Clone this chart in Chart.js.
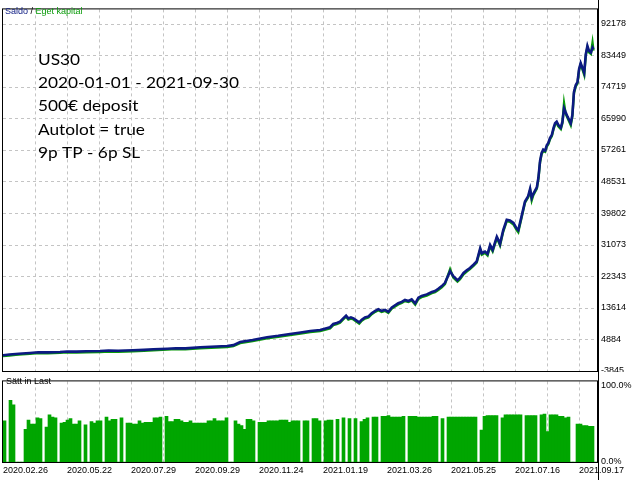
<!DOCTYPE html>
<html>
<head>
<meta charset="utf-8">
<script src="https://cdn.jsdelivr.net/npm/chart.js@4"></script>
<style>
  html, body { margin: 0; padding: 0; background: #fff; }
  #wrap { position: relative; width: 640px; height: 480px; overflow: hidden; }
  #top { position: absolute; left: 0; top: 0; }
  #bottom { position: absolute; left: 0; top: 372px; background: #fff; }
</style>
</head>
<body>
<div id="wrap">
  <canvas id="top" width="640" height="382"></canvas>
  <canvas id="bottom" width="640" height="108"></canvas>
</div>
<script>
// trade number of each sampled point on the balance graph
const tradeNo = [
  0, 20, 40, 60, 84, 110, 140, 178, 200, 230,
  260, 303, 330, 360, 406, 440, 470, 513, 540, 570,
  616, 650, 700, 720, 741, 780, 825, 860, 897, 930,
  960, 991, 1022, 1032, 1043, 1053, 1063, 1072, 1079, 1087,
  1095, 1105, 1113, 1121, 1131, 1142, 1152, 1163, 1173, 1183,
  1194, 1204, 1215, 1225, 1235, 1246, 1256, 1267, 1277, 1288,
  1298, 1308, 1324, 1340, 1350, 1360, 1371, 1381, 1397, 1407,
  1420, 1428, 1439, 1449, 1459, 1470, 1480, 1491, 1496, 1506,
  1514, 1522, 1530, 1543, 1548, 1553, 1563, 1574, 1584, 1595,
  1605, 1610, 1621, 1631, 1641, 1647, 1652, 1657, 1668, 1673,
  1678, 1683, 1688, 1694, 1699, 1704, 1709, 1715, 1720, 1725,
  1730, 1735, 1743, 1748, 1753, 1758, 1764, 1769, 1774, 1779,
  1784, 1790, 1795, 1800, 1805, 1810, 1816, 1821, 1826, 1831,
  1837, 1842, 1845
];
const balance = [
  500, 700, 850, 1000, 1150, 1350, 1300, 1420, 1550, 1500,
  1620, 1690, 1800, 1750, 1880, 2000, 2150, 2320, 2450, 2400,
  2700, 2850, 3050, 3300, 4150, 4700, 5500, 5900, 6400, 6800,
  7200, 7500, 8240, 9140, 9410, 9790, 10690, 11430, 10690, 10970,
  10690, 10070, 9600, 10340, 10970, 11240, 12140, 12790, 13230, 12790,
  13070, 12520, 13700, 14320, 14870, 15250, 15800, 15500, 15960, 14870,
  16420, 16890, 17330, 17980, 18260, 18880, 19610, 20510, 23710, 22340,
  21250, 21880, 23240, 23970, 24600, 25510, 26420, 30060, 28690, 29160,
  28510, 30960, 29600, 33260, 32330, 31240, 35060, 37970, 37780, 37070,
  35520, 35060, 39150, 43000, 44500, 46500, 44000, 45100, 46900, 49620,
  54150, 56440, 57340, 57070, 58510, 59170, 60530, 61430, 63260, 64630,
  65060, 64160, 63420, 65060, 68720, 67630, 66430, 65530, 64630, 66890,
  73250, 75260, 75980, 79630, 81270, 80070, 78540, 83720, 85990, 84620,
  84160, 85520, 85090
];
const equity = [
  300, 450, 600, 750, 900, 1100, 1050, 1150, 1300, 1250,
  1350, 1420, 1550, 1480, 1600, 1750, 1880, 2050, 2200, 2150,
  2420, 2600, 2800, 3050, 3850, 4400, 5200, 5600, 6100, 6500,
  6900, 7200, 7950, 8850, 9100, 9500, 10400, 11150, 10350, 10650,
  10400, 9750, 9250, 10050, 10650, 10950, 11850, 12500, 12950, 12450,
  12750, 12200, 13400, 14000, 14550, 14950, 15500, 15200, 15650, 14500,
  16100, 16550, 17000, 17650, 17950, 18550, 19300, 20200, 24300, 22000,
  20850, 21550, 22900, 23650, 24300, 25200, 26100, 29700, 28300, 28800,
  28100, 30600, 29200, 32900, 31950, 30850, 34700, 37600, 37400, 36650,
  35100, 34500, 38800, 42650, 44150, 46150, 43300, 44750, 46550, 49250,
  53800, 56100, 56950, 56700, 58150, 58800, 60150, 61050, 62900, 64250,
  64700, 63750, 63000, 64700, 70140, 67250, 66050, 65100, 64100, 66500,
  72900, 74900, 75600, 79250, 80900, 79650, 78000, 83350, 85600, 84250,
  83800, 86880, 84700
];
// deposit load (%) per bar
const loadPct = [
  54, 0, 81, 75, 0, 0, 0, 43, 55, 50,
  50, 58, 57, 0, 46, 62, 59, 58, 0, 51,
  52, 55, 57, 50, 50, 54, 0, 49, 0, 53,
  51, 54, 54, 0, 59, 54, 56, 56, 0, 58,
  0, 51, 51, 50, 50, 54, 51, 52, 52, 52,
  58, 58, 59, 0, 60, 53, 53, 56, 56, 54,
  52, 52, 54, 51, 51, 51, 51, 51, 54, 54,
  57, 54, 54, 54, 58, 0, 0, 54, 50, 48,
  43, 56, 56, 54, 0, 52, 52, 52, 54, 54,
  54, 54, 55, 55, 55, 52, 54, 54, 54, 0,
  54, 54, 0, 57, 57, 54, 0, 54, 55, 55,
  0, 56, 0, 58, 0, 57, 0, 57, 0, 53,
  56, 58, 0, 59, 59, 0, 60, 60, 61, 59,
  59, 59, 59, 60, 0, 60, 60, 60, 59, 59,
  59, 59, 59, 60, 60, 0, 57, 0, 59, 59,
  59, 59, 59, 59, 59, 59, 59, 59, 0, 42,
  60, 61, 61, 61, 61, 0, 58, 62, 62, 62,
  62, 62, 62, 0, 61, 61, 61, 61, 0, 62,
  63, 40, 62, 62, 62, 60, 60, 58, 59, 0,
  0, 50, 50, 48, 48, 47, 47, 0
];
const yTicks = [-3845, 4884, 13614, 22343, 31073, 39802, 48531, 57261, 65990, 74719, 83449, 92178];
const dateLabels = ['2020.02.26', '2020.05.22', '2020.07.29', '2020.09.29', '2020.11.24',
                    '2021.01.19', '2021.03.26', '2021.05.25', '2021.07.16', '2021.09.17'];
const gridTrades = [0, 100, 200, 300, 400, 500, 600, 700, 800, 900, 1000, 1100, 1200, 1300, 1400, 1500, 1600, 1700, 1800];
const notes = ['US30', '2020-01-01 - 2021-09-30', '500€ deposit', 'Autolot = true', '9p TP - 6p SL'];

const X_MAX = 1856;
const BLUE = '#0c1a82';
const GREEN = '#0a9a0a';
const BAR_GREEN = '#00a600';

Chart.defaults.font.family = "'Liberation Sans', Arial, sans-serif";
Chart.defaults.font.size = 9;
Chart.defaults.color = '#000';

// dashed grid like the terminal draws it
const dashedGrid = {
    id: 'dashedGrid',
    beforeDatasetsDraw(chart, args, opts) {
        const { ctx, chartArea: a, scales } = chart;
        ctx.save();
        ctx.strokeStyle = '#c4c4c4';
        ctx.lineWidth = 1;
        ctx.setLineDash([3, 3]);
        scales.x.ticks.forEach(t => {
            const px = Math.round(scales.x.getPixelForValue(t.value)) + 0.5;
            if (px <= a.left + 1) return;
            ctx.beginPath();
            ctx.moveTo(px, a.top);
            ctx.lineTo(px, a.bottom);
            ctx.stroke();
        });
        if (opts.horizontal) {
            scales.y.ticks.forEach(t => {
                const py = Math.round(scales.y.getPixelForValue(t.value)) + 0.5;
                if (py >= a.bottom - 1) return;
                ctx.beginPath();
                ctx.moveTo(a.left, py);
                ctx.lineTo(a.right, py);
                ctx.stroke();
            });
        }
        ctx.restore();
    }
};

const frame = {
    id: 'frame',
    afterDraw(chart) {
        const { ctx, chartArea: a } = chart;
        ctx.save();
        ctx.strokeStyle = '#000';
        ctx.lineWidth = 1;
        ctx.strokeRect(a.left - 0.5, a.top - 0.5, a.right - a.left + 1, a.bottom - a.top + 1);
        ctx.beginPath();
        ctx.moveTo(a.right + 1.5, 0);
        ctx.lineTo(a.right + 1.5, chart.height);
        ctx.stroke();
        ctx.restore();
    }
};

const topTexts = {
    id: 'topTexts',
    afterDraw(chart) {
        const ctx = chart.ctx;
        ctx.save();
        ctx.font = "9px 'Liberation Sans', Arial, sans-serif";
        let x = 5;
        ctx.fillStyle = BLUE;
        ctx.fillText('Saldo', x, 14);
        x += ctx.measureText('Saldo').width;
        ctx.fillStyle = '#000';
        ctx.fillText(' / ', x, 14);
        x += ctx.measureText(' / ').width;
        ctx.fillStyle = GREEN;
        ctx.fillText('Eget kapital', x, 14);

        ctx.fillStyle = '#000';
        ctx.font = "15px Lato, 'Open Sans', sans-serif";
        notes.forEach((line, i) => {
            ctx.save();
            ctx.translate(38, 65 + i * 23.2);
            ctx.scale(1.15, 1);
            ctx.fillText(line, 0, 0);
            ctx.restore();
        });
        ctx.restore();
    }
};

const bottomTexts = {
    id: 'bottomTexts',
    afterDraw(chart) {
        const ctx = chart.ctx;
        ctx.save();
        ctx.font = "9px 'Liberation Sans', Arial, sans-serif";
        ctx.fillStyle = '#000';
        ctx.fillText('Sätt in Last', 6, 12);
        ctx.restore();
    }
};

new Chart(document.getElementById('top'), {
    type: 'line',
    data: {
        datasets: [
            {
                label: 'Saldo',
                data: tradeNo.map((t, i) => ({ x: t, y: balance[i] })),
                borderColor: BLUE,
                borderWidth: 2.6,
                pointRadius: 0,
                tension: 0
            },
            {
                label: 'Eget kapital',
                data: tradeNo.map((t, i) => ({ x: t, y: equity[i] })),
                borderColor: GREEN,
                borderWidth: 2.4,
                pointRadius: 0,
                tension: 0
            }
        ]
    },
    options: {
        responsive: false,
        animation: false,
        events: [],
        layout: { padding: { left: 3, top: 3, right: 0, bottom: 11 } },
        plugins: {
            legend: { display: false },
            tooltip: { enabled: false },
            dashedGrid: { horizontal: true }
        },
        scales: {
            x: {
                type: 'linear',
                min: 0,
                max: X_MAX,
                offset: false,
                grid: { display: false, drawTicks: false },
                border: { display: false },
                ticks: { display: false },
                afterBuildTicks: s => { s.ticks = gridTrades.map(v => ({ value: v })); },
                afterFit: s => { s.height = 0; }
            },
            y: {
                position: 'right',
                min: -3845,
                max: 96080,
                grid: { display: false, drawTicks: false },
                border: { display: false },
                ticks: { padding: 4, crossAlign: 'near', callback: v => String(v) },
                afterBuildTicks: s => { s.ticks = yTicks.map(v => ({ value: v })); },
                afterFit: s => { s.width = 43; }
            }
        }
    },
    plugins: [dashedGrid, frame, topTexts]
});

new Chart(document.getElementById('bottom'), {
    type: 'bar',
    data: {
        labels: loadPct.map((_, i) => i),
        datasets: [{
            label: 'Sätt in Last',
            data: loadPct,
            xAxisID: 'xb',
            backgroundColor: BAR_GREEN,
            borderWidth: 0,
            barPercentage: 1,
            categoryPercentage: 1
        }]
    },
    options: {
        responsive: false,
        animation: false,
        events: [],
        layout: { padding: { left: 3, top: 1, right: 0, bottom: 0 } },
        plugins: {
            legend: { display: false },
            tooltip: { enabled: false },
            dashedGrid: { horizontal: false }
        },
        scales: {
            xb: {
                type: 'category',
                display: false,
                offset: true
            },
            x: {
                type: 'linear',
                position: 'bottom',
                min: 0,
                max: X_MAX,
                offset: false,
                grid: { display: false, drawTicks: false },
                border: { display: false },
                ticks: {
                    padding: 3,
                    align: 'start',
                    maxRotation: 0,
                    autoSkip: false,
                    callback: v => (v % 200 === 0 ? dateLabels[v / 200] : '')
                },
                afterBuildTicks: s => { s.ticks = gridTrades.map(v => ({ value: v })); },
                afterFit: s => { s.height = 18; }
            },
            y: {
                position: 'right',
                min: 0,
                max: 105.95,
                grid: { display: false, drawTicks: false },
                border: { display: false },
                ticks: { padding: 4, crossAlign: 'near', callback: v => v.toFixed(1) + '%' },
                afterBuildTicks: s => { s.ticks = [0, 100].map(v => ({ value: v })); },
                afterFit: s => { s.width = 43; }
            }
        }
    },
    plugins: [dashedGrid, frame, bottomTexts]
});
</script>
</body>
</html>
